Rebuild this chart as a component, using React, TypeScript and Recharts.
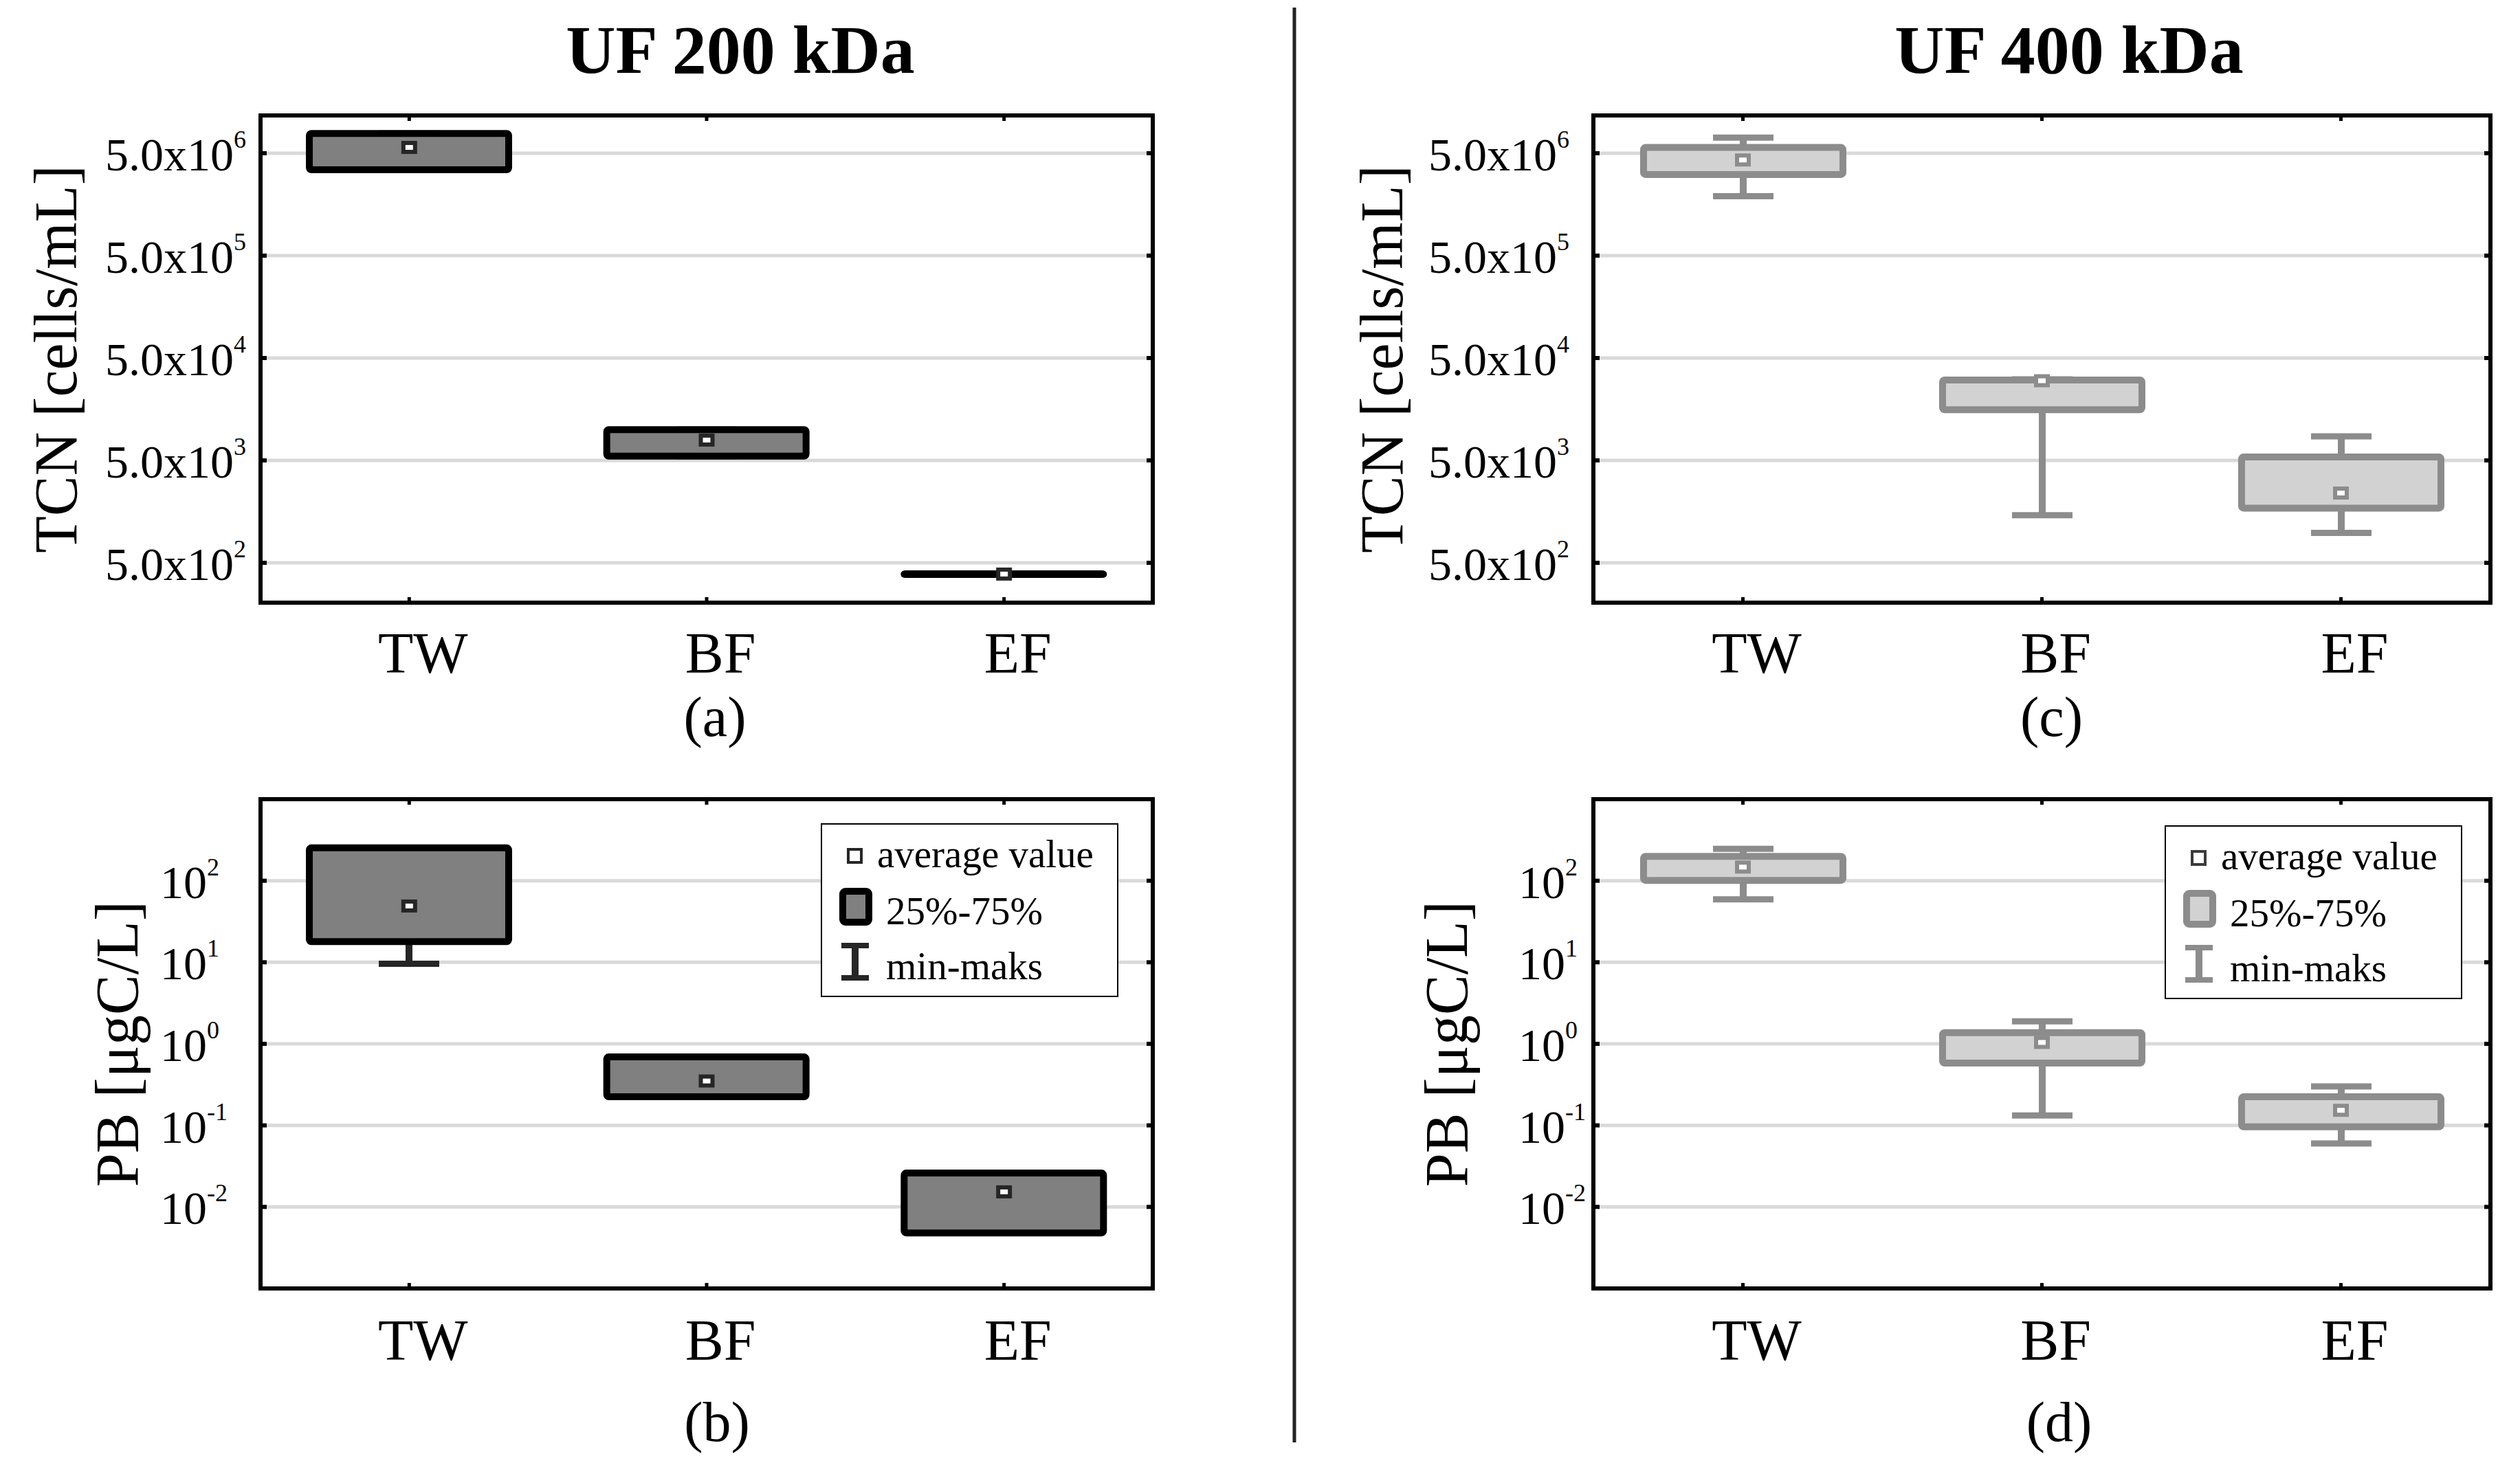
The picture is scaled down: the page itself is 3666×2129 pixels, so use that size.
import React from 'react';
import { ComposedChart, Bar, Scatter, XAxis, YAxis, CartesianGrid, Legend, Label } from 'recharts';

const FONT = "'Liberation Serif', 'Times New Roman', serif";

const categories = ['TW', 'BF', 'EF'];

// TCN [cells/mL], UF 200 kDa
const tcn200Min = [3.45e6, 5.5e3, 385];
const tcn200Q1 = [3.45e6, 5.5e3, 385];
const tcn200Mean = [5.7e6, 7.9e3, 388];
const tcn200Q3 = [7.8e6, 1.0e4, 391];
const tcn200Max = [7.8e6, 1.0e4, 391];

// PB [ugC/L], UF 200 kDa
const pb200Min = [9.6, 0.224, 0.0048];
const pb200Q1 = [17.9, 0.224, 0.0048];
const pb200Mean = [49, 0.35, 0.0153];
const pb200Q3 = [253, 0.69, 0.026];
const pb200Max = [253, 0.69, 0.026];

// TCN [cells/mL], UF 400 kDa
const tcn400Min = [1.9e6, 1.46e3, 980];
const tcn400Q1 = [3.1e6, 1.56e4, 1.71e3];
const tcn400Mean = [4.3e6, 3.0e4, 2.4e3];
const tcn400Q3 = [5.7e6, 3.05e4, 5.4e3];
const tcn400Max = [7.1e6, 3.1e4, 8.6e3];

// PB [ugC/L], UF 400 kDa
const pb400Min = [59, 0.132, 0.06];
const pb400Q1 = [101, 0.58, 0.096];
const pb400Mean = [147, 1.04, 0.153];
const pb400Q3 = [199, 1.37, 0.224];
const pb400Max = [246, 1.89, 0.3];

const tcnTicks = [500, 5000, 50000, 500000, 5000000];
const pbTicks = [0.01, 0.1, 1, 10, 100];
const tcnDomain = [204, 1.17e7];
const pbDomain = [0.001, 1000];

const legendLabels = ['average value', '25%-75%', 'min-maks'];

const buildRows = (min, q1, mean, q3, max) =>
  categories.map((cat, i) => ({ cat, range: [min[i], max[i]], box: [q1[i], q3[i]], mean: mean[i] }));

const DARK = { fill: '#808080', stroke: '#000000', whisker: '#262626', mean: '#262626', legendMean: '#262626' };
const LIGHT = { fill: '#d2d2d2', stroke: '#8c8c8c', whisker: '#8c8c8c', mean: '#8c8c8c', legendMean: '#3a3a3a' };

const tcnFmt = (v: number) => ['5.0x10', String(Math.round(Math.log10(v / 5)))];
const pbFmt = (v: number) => ['10', String(Math.round(Math.log10(v)))];

function Whisker(props) {
  const { x, y, width, height, color } = props;
  if (x == null || y == null) return null;
  const cx = x + width / 2;
  const y2 = y + height;
  return (
    <g stroke={color} strokeWidth={9}>
      <line x1={cx} x2={cx} y1={y} y2={y2} strokeWidth={10} />
      <line x1={x} x2={x + width} y1={y} y2={y} />
      <line x1={x} x2={x + width} y1={y2} y2={y2} />
    </g>
  );
}

function BoxRect(props) {
  const { x, y, width, height, pal } = props;
  if (x == null || y == null) return null;
  return (
    <rect x={x} y={y} width={width} height={Math.max(height, 0)} rx={3}
      fill={pal.fill} stroke={pal.stroke} strokeWidth={10} />
  );
}

function MeanMark(props) {
  const { cx, cy, color } = props;
  if (cx == null || cy == null) return null;
  return <rect x={cx - 8.5} y={cy - 6.5} width={17} height={13} fill="#ffffff" stroke={color} strokeWidth={6} />;
}

function YTick(props) {
  const { x, y, payload, fmt, gap, anchor } = props;
  const [base, exp] = fmt(payload.value);
  return (
    <g>
      <line x1={x} x2={x + 9} y1={y} y2={y} stroke="#000" strokeWidth={6} />
      <text x={x - gap} y={y + 25} textAnchor={anchor} fontFamily={FONT} fontSize={68} fill="#000">
        <tspan>{base}</tspan>
        <tspan dy={-33} fontSize={36}>{exp}</tspan>
      </text>
    </g>
  );
}

function RightTick(props) {
  const { x, y } = props;
  return <line x1={x - 9} x2={x} y1={y} y2={y} stroke="#000" strokeWidth={6} />;
}

function TopTick(props) {
  const { x, y } = props;
  return <line x1={x} x2={x} y1={y} y2={y + 8} stroke="#000" strokeWidth={5} />;
}

function CatTick(props) {
  const { x, y, payload, labelY } = props;
  return (
    <g>
      <line x1={x} x2={x} y1={y} y2={y - 8} stroke="#000" strokeWidth={5} />
      <text x={x + 20} y={y + labelY} textAnchor="middle" fontFamily={FONT} fontSize={84} fill="#000">
        {payload.value}
      </text>
    </g>
  );
}

function LegendBox({ pal }) {
  return (
    <svg width={433} height={253} style={{ display: 'block' }}>
      <rect x={1} y={1} width={431} height={251} fill="#fff" stroke="#000" strokeWidth={2} />
      <rect x={40} y={38} width={19} height={19} fill="#fff" stroke={pal.legendMean} strokeWidth={4} />
      <rect x={32} y={99} width={38} height={45} rx={4} fill={pal.fill} stroke={pal.stroke} strokeWidth={10} />
      <g stroke={pal.whisker}>
        <line x1={30} x2={70} y1={178} y2={178} strokeWidth={8} />
        <line x1={30} x2={70} y1={225} y2={225} strokeWidth={8} />
        <line x1={50} x2={50} y1={178} y2={225} strokeWidth={10} />
      </g>
      <g fontFamily={FONT} fontSize={57} fill="#000">
        <text x={82} y={64}>{legendLabels[0]}</text>
        <text x={95} y={147}>{legendLabels[1]}</text>
        <text x={95} y={227}>{legendLabels[2]}</text>
      </g>
    </svg>
  );
}

const FRAME = { stroke: '#000', strokeWidth: 6, strokeLinecap: 'square' };

function Panel(p) {
  const {
    rows, left, top, width, height, marginTop, xAxisHeight, domain, ticks, fmt, tickGap, tickAnchor,
    yLabel, yLabelX, caption, captionDx, captionY, catY, pal, legendPos,
  } = p;
  return (
    <div style={{ position: 'absolute', left, top }}>
      <ComposedChart width={width} height={height} data={rows}
        margin={{ top: marginTop, right: 22, bottom: 0, left: 0 }}>
        <CartesianGrid vertical={false} stroke="#d9d9d9" strokeWidth={5} />
        <Bar xAxisId="wh" dataKey="range" barSize={88} isAnimationActive={false}
          shape={(s) => <Whisker {...s} color={pal.whisker} />} />
        <Bar dataKey="box" barSize={290} isAnimationActive={false}
          shape={(s) => <BoxRect {...s} pal={pal} />} />
        <Scatter dataKey="mean" isAnimationActive={false}
          shape={(s) => <MeanMark {...s} color={pal.mean} />} />
        <XAxis dataKey="cat" type="category" height={xAxisHeight} interval={0} tickSize={0} tickMargin={0}
          axisLine={FRAME} tick={<CatTick labelY={catY} />}>
          <Label content={(lp) => {
            const vb = lp.viewBox;
            return (
              <text x={vb.x + vb.width / 2 + captionDx} y={vb.y + captionY} textAnchor="middle"
                fontFamily={FONT} fontSize={82} fill="#000">{caption}</text>
            );
          }} />
        </XAxis>
        <XAxis xAxisId="wh" dataKey="cat" type="category" hide />
        <XAxis xAxisId="top" dataKey="cat" type="category" orientation="top" height={1} interval={0}
          tickSize={0} tickMargin={0} axisLine={FRAME} tick={<TopTick />} />
        <YAxis type="number" scale="log" domain={domain} allowDataOverflow ticks={ticks} interval={0}
          width={379} tickSize={0} tickMargin={0} axisLine={FRAME}
          tick={<YTick fmt={fmt} gap={tickGap} anchor={tickAnchor} />}>
          <Label content={(lp) => {
            const vb = lp.viewBox;
            const cy = vb.y + vb.height / 2;
            return (
              <text x={yLabelX} y={cy} textAnchor="middle" transform={`rotate(-90, ${yLabelX}, ${cy})`}
                fontFamily={FONT} fontSize={88} fill="#000">{yLabel}</text>
            );
          }} />
        </YAxis>
        <YAxis yAxisId="r" orientation="right" type="number" scale="log" domain={domain} allowDataOverflow
          ticks={ticks} interval={0} width={1} tickSize={0} tickMargin={0}
          axisLine={FRAME} tick={<RightTick />} />
        {legendPos && (
          <Legend layout="horizontal" verticalAlign="middle" align="center"
            wrapperStyle={{ left: legendPos[0], top: legendPos[1], width: 433, height: 253 }}
            content={() => <LegendBox pal={pal} />} />
        )}
      </ComposedChart>
    </div>
  );
}

export default function App() {
  const tcn200 = buildRows(tcn200Min, tcn200Q1, tcn200Mean, tcn200Q3, tcn200Max);
  const pb200 = buildRows(pb200Min, pb200Q1, pb200Mean, pb200Q3, pb200Max);
  const tcn400 = buildRows(tcn400Min, tcn400Q1, tcn400Mean, tcn400Q3, tcn400Max);
  const pb400 = buildRows(pb400Min, pb400Q1, pb400Mean, pb400Q3, pb400Max);

  return (
    <div style={{ position: 'absolute', left: 0, top: 0, width: 3666, height: 2129, background: '#fff', overflow: 'hidden' }}>
      <svg width={3666} height={2129} style={{ position: 'absolute', left: 0, top: 0 }}>
        <text x={1077} y={106} textAnchor="middle" fontFamily={FONT} fontWeight="bold" fontSize={100} fill="#000">UF 200 kDa</text>
        <text x={3010} y={106} textAnchor="middle" fontFamily={FONT} fontWeight="bold" fontSize={100} fill="#000">UF 400 kDa</text>
        <line x1={1883} x2={1883} y1={11} y2={2099} stroke="#222" strokeWidth={5} />
      </svg>
      <Panel rows={tcn200} left={0} top={100} width={1700} height={1017} marginTop={67} xAxisHeight={240}
        domain={tcnDomain} ticks={tcnTicks} fmt={tcnFmt} tickGap={21} tickAnchor="end"
        yLabel="TCN [cells/mL]" yLabelX={111} caption="(a)" captionDx={12} captionY={194} catY={102} pal={DARK} />
      <Panel rows={pb200} left={0} top={1100} width={1700} height={1025} marginTop={62} xAxisHeight={250}
        domain={pbDomain} ticks={pbTicks} fmt={pbFmt} tickGap={146} tickAnchor="start"
        yLabel="PB [μgC/L]" yLabelX={200} caption="(b)" captionDx={15} captionY={222} catY={104} pal={DARK}
        legendPos={[1194, 98]} />
      <Panel rows={tcn400} left={1939} top={100} width={1707} height={1017} marginTop={67} xAxisHeight={240}
        domain={tcnDomain} ticks={tcnTicks} fmt={tcnFmt} tickGap={35} tickAnchor="end"
        yLabel="TCN [cells/mL]" yLabelX={101} caption="(c)" captionDx={14} captionY={194} catY={102} pal={LIGHT} />
      <Panel rows={pb400} left={1939} top={1100} width={1707} height={1025} marginTop={62} xAxisHeight={250}
        domain={pbDomain} ticks={pbTicks} fmt={pbFmt} tickGap={109} tickAnchor="start"
        yLabel="PB [μgC/L]" yLabelX={195} caption="(d)" captionDx={25} captionY={222} catY={104} pal={LIGHT}
        legendPos={[1210, 101]} />
    </div>
  );
}
